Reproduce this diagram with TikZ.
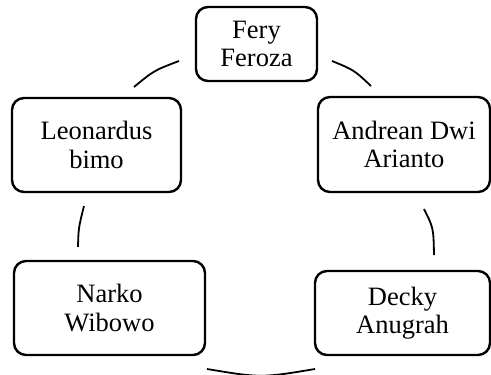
\documentclass[tikz,border=0pt]{standalone}
\usepackage{fontspec}
\setmainfont{Liberation Serif}
\begin{document}
\begin{tikzpicture}[x=1pt,y=-1pt,
  member/.style={draw=black, line width=2.4pt, rounded corners=12pt, align=center,
    inner sep=0pt, font=\fontsize{26.5}{28.5}\selectfont},
  link/.style={draw=black, line width=1.8pt}]
\useasboundingbox (0,0) rectangle (491,375);
\node[member, minimum width=121pt, minimum height=74pt] (fery) at (256.5,44) {\raisebox{-3pt}{Fery}\\\raisebox{-3pt}{Feroza}};
\node[member, minimum width=172pt, minimum height=95pt] (andrean) at (404,144.5) {Andrean Dwi\\Arianto};
\node[member, minimum width=169pt, minimum height=94pt] (leo) at (96.5,145) {Leonardus\\bimo};
\node[member, minimum width=191pt, minimum height=94pt] (narko) at (109.5,308) {Narko\\Wibowo};
\node[member, minimum width=175pt, minimum height=84pt] (decky) at (402.5,313) {Decky\\Anugrah};
% arc end points
\coordinate (a1s) at (332,61);  \coordinate (a1e) at (371,86);
\coordinate (a2s) at (179,61);  \coordinate (a2e) at (134,87);
\coordinate (a3s) at (84,206);  \coordinate (a3e) at (78,247);
\coordinate (a4s) at (424,209); \coordinate (a4e) at (434,255);
\coordinate (a5s) at (207,369); \coordinate (a5e) at (315,369);
\draw[link] (a1s) .. controls (354,70) .. (a1e);
\draw[link] (a2s) .. controls (154,70.5) .. (a2e);
\draw[link] (a3s) .. controls (78.5,228) .. (a3e);
\draw[link] (a4s) .. controls (433.5,228) .. (a4e);
\draw[link] (a5s) .. controls (261,378) .. (a5e);
\end{tikzpicture}
\end{document}
